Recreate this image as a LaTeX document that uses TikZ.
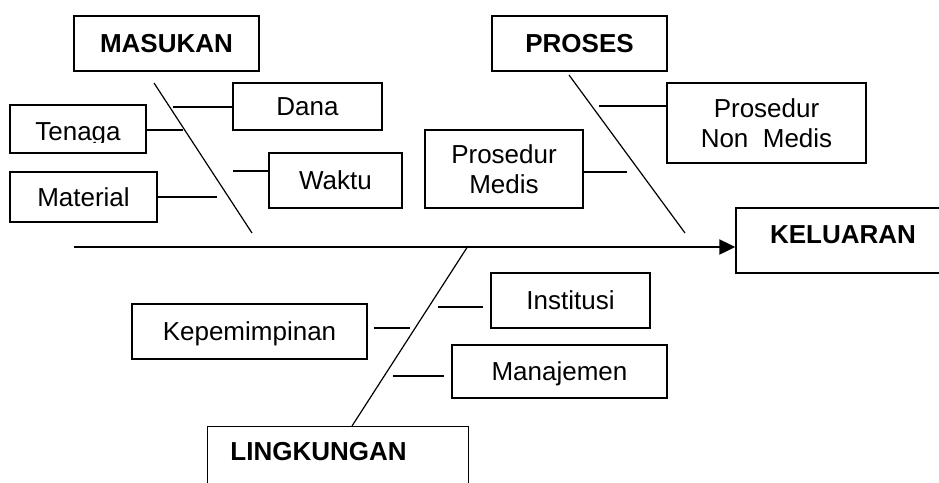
\documentclass[tikz,border=0pt]{standalone}
\usepackage{fontspec}
\setmainfont{Liberation Sans}
\usetikzlibrary{arrows.meta}
\begin{document}
\begin{tikzpicture}[x=1pt,y=-1pt,
  txt/.style={font=\fontsize{26}{30}\selectfont},
  boldtxt/.style={font=\fontsize{26}{30}\selectfont\bfseries},
  box/.style={draw, line width=1.4pt, inner sep=0pt, txt},
  onebox/.style={box, text height=18.6pt, text depth=0pt},
  title/.style={onebox, boldtxt},
  bone/.style={line width=1.2pt},
  twig/.style={line width=1.3pt},
  spine/.style={line width=2.2pt, -{Triangle[length=16pt,width=15pt]}}
]
\useasboundingbox (0,0) rectangle (939,482);
\clip (0,0) rectangle (939,482);

% main boxes
\node[title, minimum width=185, minimum height=55] (masukan) at (166.5,43.5) {MASUKAN};
\node[title, minimum width=175, minimum height=55] (proses) at (579.5,43.5) {PROSES};
\node[box, minimum width=214, minimum height=65] (keluaran) at (843,240.5) {};
\node[boldtxt, inner sep=0pt] (keltext) at (843,235) {KELUARAN};
\node[box, minimum width=261, minimum height=80, anchor=north west] (lingkungan) at (207,426) {};
\node[boldtxt, inner sep=0pt] (lingtext) at (318.5,452) {LINGKUNGAN};

% cause boxes
\node[onebox, minimum width=149, minimum height=47] (dana) at (307.5,106.5) {Dana};
\node[box, minimum width=136, minimum height=48] (tenaga) at (78,129) {};
\begin{scope}
  \clip (10,105) rectangle (146,142);
  \node[txt, inner sep=0pt, anchor=base] (tenagatext) at (78,140.5) {Tenaga};
\end{scope}
\node[onebox, minimum width=147, minimum height=50] (material) at (83.5,197) {Material};
\node[onebox, minimum width=133, minimum height=55] (waktu) at (335.5,180.5) {Waktu};
\node[box, align=center, minimum width=158, minimum height=78] (medis) at (504,169) {Prosedur\\Medis};
\node[box, align=center, minimum width=199, minimum height=80] (nonmedis) at (766.5,123) {Prosedur\\Non\ \ Medis};
\node[onebox, minimum width=235, minimum height=55] (kep) at (249.5,331.5) {Kepemimpinan};
\node[onebox, minimum width=159, minimum height=55] (inst) at (570.5,300.5) {Institusi};
\node[onebox, minimum width=215, minimum height=53] (man) at (559.5,371.5) {Manajemen};

% spine
\coordinate (s0) at (74,247);
\draw[spine] (s0) -- (s0 -| keluaran.west);

% bones
\coordinate (m1) at (154,83);  \coordinate (m2) at (252,233);
\coordinate (p1) at (569,75);  \coordinate (p2) at (685,233);
\coordinate (l1) at (468,246); \coordinate (l2) at (352,426);
\draw[bone] (m1) -- (m2);
\draw[bone] (p1) -- (p2);
\draw[bone] (l1) -- (l2);

% twigs
\coordinate (danaend) at (173,107);
\draw[twig] (danaend) -- (danaend -| dana.west);
\coordinate (tenagaend) at (183,130);
\draw[twig] (tenagaend -| tenaga.east) -- (tenagaend);
\coordinate (waktuend) at (233,171);
\draw[twig] (waktuend) -- (waktuend -| waktu.west);
\coordinate (materialend) at (217,197);
\draw[twig] (materialend -| material.east) -- (materialend);
\coordinate (nonmedisend) at (599,106);
\draw[twig] (nonmedisend) -- (nonmedisend -| nonmedis.west);
\coordinate (medisend) at (627,172);
\draw[twig] (medisend -| medis.east) -- (medisend);
\coordinate (kepend) at (410,328);
\draw[twig, shorten <=6pt] (kepend -| kep.east) -- (kepend);
\coordinate (instend) at (438,307);
\draw[twig, shorten >=7pt] (instend) -- (instend -| inst.west);
\coordinate (manend) at (393,376);
\draw[twig, shorten >=7pt] (manend) -- (manend -| man.west);
\end{tikzpicture}
\end{document}
